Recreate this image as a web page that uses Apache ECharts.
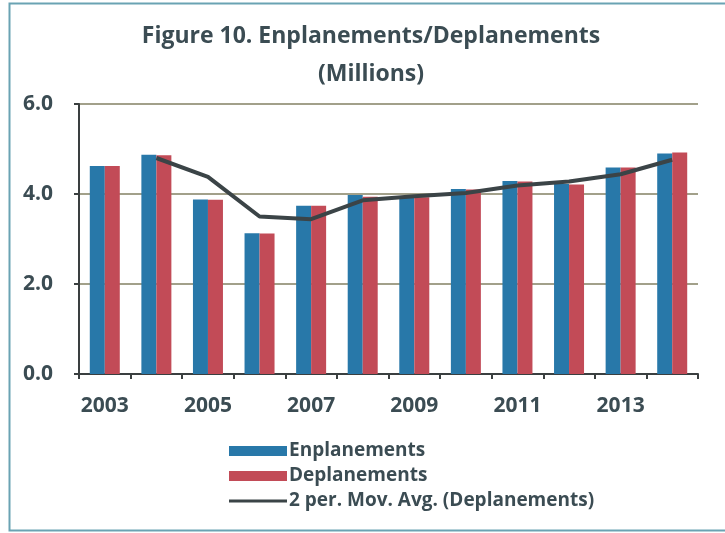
<!DOCTYPE html>
<html>
<head>
<meta charset="utf-8">
<script src="https://cdn.jsdelivr.net/npm/echarts@6/dist/echarts.min.js"></script>
<style>
  html, body { margin: 0; padding: 0; background: #ffffff; }
  #chart { width: 725px; height: 533px; }
</style>
</head>
<body>
<div id="chart"></div>
<script>
// Annual enplanements / deplanements, millions of passengers
const years = ['2003','2004','2005','2006','2007','2008','2009','2010','2011','2012','2013','2014'];
const enplanements = [4.62, 4.87, 3.88, 3.13, 3.74, 3.98, 3.94, 4.11, 4.29, 4.22, 4.59, 4.90];
const deplanements = [4.62, 4.86, 3.87, 3.12, 3.74, 3.94, 3.93, 4.10, 4.28, 4.21, 4.59, 4.92];
// Two-period moving average of deplanements (first period has none)
const movingAvg = [null, 4.80, 4.38, 3.50, 3.44, 3.86, 3.95, 4.02, 4.19, 4.28, 4.44, 4.76];
const yTicks = [0, 2, 4, 6];

const textColor = '#3b4c53';
const fontFam = '"Open Sans", "Liberation Sans", sans-serif';

const chart = echarts.init(document.getElementById('chart'), null, { renderer: 'canvas' });
chart.setOption({
  backgroundColor: '#ffffff',
  animation: false,
  title: {
    text: 'Figure 10. Enplanements/Deplanements\n(Millions)',
    left: 366,
    textAlign: 'center',
    top: 12,
    textStyle: { fontFamily: fontFam, fontWeight: 'bold', fontSize: 23, lineHeight: 38, color: textColor }
  },
  graphic: [{
    type: 'rect',
    shape: { x: 9.5, y: 3.5, width: 760, height: 527 },
    style: { fill: 'none', stroke: '#6aa3b3', lineWidth: 2 },
    silent: true
  }],
  legend: {
    orient: 'vertical',
    left: 224,
    top: 436,
    itemWidth: 58,
    itemHeight: 10,
    itemGap: 5,
    textStyle: { fontFamily: fontFam, fontWeight: 'bold', fontSize: 19, lineHeight: 20, color: textColor, padding: [0, 0, 0, -3] },
    data: [
      { name: 'Enplanements', icon: 'rect' },
      { name: 'Deplanements', icon: 'rect' },
      { name: '2 per. Mov. Avg. (Deplanements)', icon: 'path://M0,0h58v3h-58z' }
    ]
  },
  grid: { left: 79, right: 27, top: 104, bottom: 159 },
  xAxis: {
    type: 'category',
    data: years,
    axisLine: { lineStyle: { color: '#3a3f40', width: 2 } },
    axisTick: { show: true, alignWithLabel: false, interval: 0, length: 5, lineStyle: { color: '#3a3f40', width: 2 } },
    axisLabel: { interval: 1, margin: 22, fontFamily: fontFam, fontWeight: 'bold', fontSize: 21, color: textColor }
  },
  yAxis: {
    type: 'value',
    min: 0,
    max: 6,
    interval: 2,
    axisLine: { show: true, lineStyle: { color: '#3a3f40', width: 2 } },
    axisTick: { show: true, length: 5, lineStyle: { color: '#3a3f40', width: 2 } },
    splitLine: { lineStyle: { color: '#a2a08a', width: 2 } },
    axisLabel: {
      margin: 26,
      fontFamily: fontFam, fontWeight: 'bold', fontSize: 21, color: textColor,
      formatter: v => yTicks.indexOf(v) >= 0 ? v.toFixed(1) : ''
    }
  },
  series: [
    {
      name: 'Enplanements', type: 'bar', data: enplanements,
      barWidth: 15, barGap: '0%',
      itemStyle: { color: '#2878a9' }
    },
    {
      name: 'Deplanements', type: 'bar', data: deplanements,
      barWidth: 15,
      itemStyle: { color: '#c24b57' }
    },
    {
      name: '2 per. Mov. Avg. (Deplanements)', type: 'line', data: movingAvg,
      symbol: 'none',
      lineStyle: { color: '#3b4447', width: 4 },
      itemStyle: { color: '#3b4447' },
      z: 5
    }
  ]
});
</script>
</body>
</html>
